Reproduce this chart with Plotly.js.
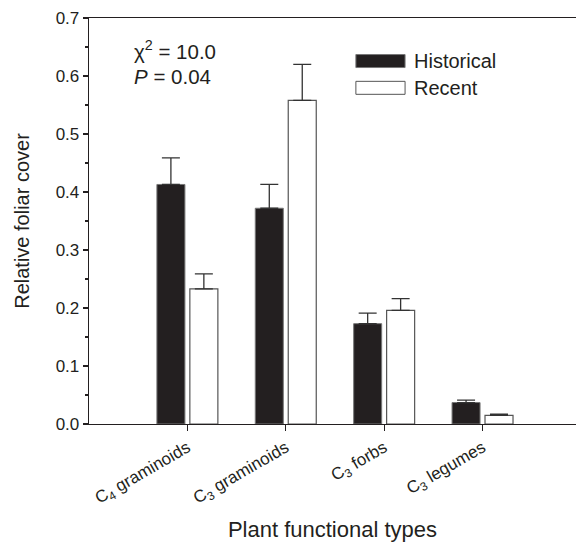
<!DOCTYPE html>
<html>
<head>
<meta charset="utf-8">
<script src="https://cdn.plot.ly/plotly-3.0.1.min.js"></script>
<style>html,body{margin:0;padding:0;background:#fff;}#chart{width:576px;height:542px;}</style>
</head>
<body>
<div id="chart"></div>
<script>
const categories = ["C<sub>4</sub> graminoids", "C<sub>3</sub> graminoids", "C<sub>3</sub> forbs", "C<sub>3</sub> legumes"];
const historical = [0.413, 0.372, 0.173, 0.037];
const historicalErr = [0.046, 0.041, 0.018, 0.004];
const recent = [0.233, 0.558, 0.196, 0.015];
const recentErr = [0.026, 0.062, 0.020, 0.002];
const yTicks = [0, 0.1, 0.2, 0.3, 0.4, 0.5, 0.6, 0.7];
const yTickLabels = ["0.0", "0.1", "0.2", "0.3", "0.4", "0.5", "0.6", "0.7"];

const FONT = "Liberation Sans, Arial, Helvetica, sans-serif";

const traces = [
  {
    type: "bar", name: "Historical", x: categories, y: historical,
    marker: {color: "#231f20", line: {color: "#777", width: 1}},
    error_y: {type: "data", symmetric: false, array: historicalErr, arrayminus: historicalErr.map(() => 0),
      color: "#333", thickness: 1.3, width: 9},
    showlegend: false
  },
  {
    type: "bar", name: "Recent", x: categories, y: recent,
    marker: {color: "#ffffff", line: {color: "#555", width: 1.2}},
    error_y: {type: "data", symmetric: false, array: recentErr, arrayminus: recentErr.map(() => 0),
      color: "#333", thickness: 1.3, width: 9},
    showlegend: false
  }
];

const layout = {
  width: 576, height: 542,
  margin: {l: 89, r: 0, t: 18, b: 118},
  paper_bgcolor: "#fff", plot_bgcolor: "#fff",
  font: {family: FONT, color: "#231f20"},
  barmode: "group", bargap: 0.33, bargroupgap: 0.15,
  xaxis: {
    type: "category", range: [-1, 3.95],
    showline: true, linecolor: "#231f20", linewidth: 1.3, mirror: true,
    ticks: "outside", ticklen: 6, tickcolor: "#231f20", tickwidth: 1.2,
    tickangle: -30, tickfont: {size: 17, family: FONT},
    showgrid: false, zeroline: false,
    title: {text: "Plant functional types", font: {size: 22, family: FONT}, standoff: 24}
  },
  yaxis: {
    range: [0, 0.7], tickvals: yTicks, ticktext: yTickLabels,
    showline: true, linecolor: "#231f20", linewidth: 1.3,
    ticks: "outside", ticklen: 5, tickcolor: "#231f20", tickwidth: 1.2,
    minor: {dtick: 0.05, ticks: "outside", ticklen: 3, tickcolor: "#231f20", showgrid: false},
    tickfont: {size: 17, family: FONT},
    showgrid: false, zeroline: false,
    title: {text: "Relative foliar cover", font: {size: 20, family: FONT}, standoff: 20}
  },
  shapes: [
    {type: "rect", xref: "paper", yref: "paper", x0: 0.548, x1: 0.649, y0: 0.878, y1: 0.910,
      fillcolor: "#231f20", line: {color: "#777", width: 1}},
    {type: "rect", xref: "paper", yref: "paper", x0: 0.548, x1: 0.649, y0: 0.812, y1: 0.844,
      fillcolor: "#fff", line: {color: "#555", width: 1}}
  ],
  annotations: [
    {xref: "paper", yref: "paper", x: 0.664, y: 0.894, text: "Historical", showarrow: false,
      xanchor: "left", yanchor: "middle", font: {size: 20, family: FONT}},
    {xref: "paper", yref: "paper", x: 0.664, y: 0.828, text: "Recent", showarrow: false,
      xanchor: "left", yanchor: "middle", font: {size: 20, family: FONT}},
    {xref: "paper", yref: "paper", x: 0.088, y: 0.921, text: "χ<sup>2</sup> = 10.0", showarrow: false,
      xanchor: "left", yanchor: "middle", font: {size: 20.5, family: FONT}},
    {xref: "paper", yref: "paper", x: 0.088, y: 0.855, text: "<i>P</i> = 0.04", showarrow: false,
      xanchor: "left", yanchor: "middle", font: {size: 20.5, family: FONT}}
  ]
};

Plotly.newPlot("chart", traces, layout, {displayModeBar: false, staticPlot: true});
</script>
</body>
</html>
